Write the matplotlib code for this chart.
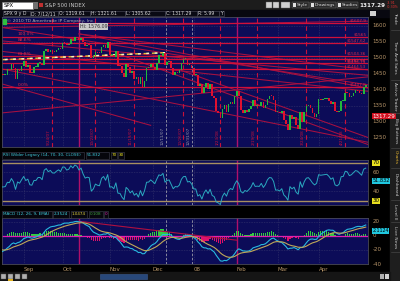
import numpy as np
import pandas as pd
import matplotlib
matplotlib.use('Agg')
import matplotlib.pyplot as plt
from matplotlib.patches import Rectangle

# ---------------- data ----------------
# SPX daily closes used only to warm up the indicators (Jul 2 - Aug 14 2007)
warmup_closes = [1519.43, 1524.87, 1525.40, 1530.44, 1531.85, 1510.12, 1518.76, 1547.70,
                 1552.50, 1549.52, 1549.37, 1546.17, 1553.08, 1534.10, 1541.57, 1511.04,
                 1518.09, 1482.66, 1458.95, 1473.91, 1455.27, 1465.81, 1472.20, 1433.06,
                 1467.67, 1476.71, 1497.49, 1453.09, 1453.64, 1452.92, 1426.54]
# SPX daily closes shown (Aug 15 2007 - May 2 2008)
closes = [
    1406.70, 1411.27, 1445.94, 1445.55, 1447.12, 1464.07, 1462.50, 1479.37, 1466.79, 1432.36,
    1463.76, 1457.64, 1473.99,
    1489.42, 1472.29, 1478.55, 1453.55, 1451.70, 1471.49, 1471.56, 1483.95, 1484.25, 1476.65,
    1519.78, 1529.03, 1518.75, 1525.75, 1517.73, 1517.21, 1525.42, 1531.38, 1526.75,
    1547.04, 1546.63, 1539.59, 1542.84, 1557.59, 1552.58, 1565.15, 1562.47, 1554.41, 1561.80,
    1548.71, 1538.53, 1541.24, 1540.08, 1500.63, 1506.33, 1519.59, 1515.88, 1514.40, 1535.28,
    1540.98, 1531.02, 1549.38,
    1508.44, 1509.65, 1502.17, 1520.27, 1475.62, 1474.77, 1453.70, 1439.18, 1481.05, 1470.58,
    1451.15, 1458.74, 1433.27, 1439.70, 1416.77, 1440.70, 1407.22, 1428.23, 1469.02, 1469.72,
    1481.14,
    1472.42, 1462.79, 1485.01, 1507.34, 1504.66, 1515.96, 1477.65, 1486.59, 1488.41, 1467.95,
    1445.90, 1454.98, 1453.00, 1460.12, 1484.46, 1496.45, 1497.66, 1476.27, 1478.49, 1468.36,
    1447.16, 1447.16, 1411.63, 1416.18, 1390.19, 1409.13, 1420.33, 1401.02, 1416.25, 1380.95,
    1373.20, 1333.25, 1325.19, 1310.50, 1338.60, 1352.07, 1330.61, 1353.96, 1362.30, 1355.81,
    1378.55,
    1395.42, 1380.82, 1336.64, 1326.45, 1336.91, 1331.29, 1339.13, 1348.86, 1367.21, 1348.86,
    1349.99, 1348.78, 1360.03, 1342.53, 1353.11, 1371.80, 1381.29, 1380.02, 1367.68, 1330.63,
    1331.34, 1326.75, 1333.70, 1304.34, 1293.37, 1273.37, 1320.65, 1308.77, 1315.48, 1288.14,
    1276.60, 1330.74, 1298.42, 1329.51, 1349.88, 1352.99, 1341.13, 1325.76, 1315.22, 1322.70,
    1370.18, 1367.53, 1369.31, 1370.40, 1372.54, 1365.54, 1354.49, 1360.55, 1332.83, 1328.32,
    1334.43, 1364.71, 1365.56, 1390.33, 1388.17, 1375.94, 1379.93, 1388.82, 1397.84, 1396.37,
    1390.94, 1385.59, 1409.34, 1413.90]

month_labels = ['Sep', 'Oct', 'Nov', 'Dec', '08', 'Feb', 'Mar', 'Apr']
month_first_idx = [13, 32, 55, 76, 96, 117, 137, 157]

price_ticks = [1600, 1550, 1500, 1450, 1400, 1350, 1300, 1250]
rsi_ticks = [60, 40]
macd_ticks = [20, 0, -20, -40]

level_prices = [1607.9, 1565.0, 1547.62, 1504.36, 1496.75, 1482.54, 1464.53, 1407.8]
level_labels = ['$1607.9', '$1565', '$1547.62', '$1504.36', '$1496.75', '$1482.54',
                '$1464.53', '$1407.8']
level_label_above = [True, True, True, True, False, True, True, True]
fib_prices = [1565.0, 1547.62, 1504.36, 1407.8]
fib_labels = ['100.0%', '88.6%', '61.8%', '0.0%']

# trend lines drawn on the price pane: (start idx, start price, end idx, end price)
diag_x0 = [2.4, 2.4, 2.4, 2.4, 2.4, 40, 60, 90, 2.4, 2.4, 40]
diag_p0 = [1595, 1553, 1465, 1418, 1327, 1575, 1510, 1460, 1595, 1520, 1575]
diag_x1 = [181, 181, 181, 75, 181, 181, 181, 181, 181, 181, 181]
diag_p1 = [1415, 1445, 1235, 1288, 1440, 1462, 1228, 1250, 1615, 1395, 1405]

vline_idx = [27, 48, 67, 91, 109, 127, 151, 170]
vline_labels = ['9/24/07', '10/23/07', '11/19/07', '12/26/07', '1/23/08', '2/19/08',
                '3/24/08', '4/21/08']
grey_vline_idx = [82.5, 95.2]
grey_vline_labels = ['12/11/07', '12/31/07']
magenta_vline_idx = [40, 117]

hi_idx, hi_value = 40, 1576.09
last_quote = 1317.29

# ---------------- indicators ----------------
def wilder_rsi(values, n=14):
    v = np.asarray(values, float)
    d = np.diff(v)
    g = np.where(d > 0, d, 0.0)
    l = np.where(d < 0, -d, 0.0)
    ag, al = g[:n].mean(), l[:n].mean()
    out = np.full(len(v), np.nan)
    out[n] = 100 - 100 / (1 + ag / al)
    for k in range(n, len(d)):
        ag = (ag * (n - 1) + g[k]) / n
        al = (al * (n - 1) + l[k]) / n
        out[k + 1] = 100 - 100 / (1 + ag / al)
    return out

allc = pd.Series(warmup_closes + closes, dtype=float)
nw = len(warmup_closes)
rsi = wilder_rsi(allc.values)[nw:]
macd_all = allc.ewm(span=12, adjust=False).mean() - allc.ewm(span=26, adjust=False).mean()
sig_all = macd_all.ewm(span=9, adjust=False).mean()
macd = macd_all.values[nw:]
sig = sig_all.values[nw:]
hist = macd - sig

c = np.array(closes)
o = np.array(allc.values[nw - 1:-1])
idx = np.arange(len(c))

# ---------------- figure ----------------
W, H = 400, 281
NAVY = '#0c0c58'
UP = '#22b83c'
DN = '#e01030'
TAN = '#b8966a'
GRID = '#50507a'
LVL = '#d0103a'

fig = plt.figure(figsize=(W / 100, H / 100), dpi=100, facecolor='#000000')

def add_px(x0, y0, x1, y1, z=0):
    return fig.add_axes([x0 / W, 1 - y1 / H, (x1 - x0) / W, (y1 - y0) / H], zorder=z)

base = add_px(0, 0, W, H, z=-10)
base.set_xlim(0, W); base.set_ylim(H, 0); base.axis('off')
over = add_px(0, 0, W, H, z=20)
over.set_xlim(0, W); over.set_ylim(H, 0); over.axis('off'); over.patch.set_alpha(0)

# chrome: top toolbar, info bar, tab strip, scrollbar
base.add_patch(Rectangle((0, 0), W, 10, color='#1c1c1c'))
base.add_patch(Rectangle((0, 10), W, 7, color='#080810'))
base.add_patch(Rectangle((390, 0), 10, H, color='#1e1e1e'))
base.add_patch(Rectangle((0, 272), 390, 9, color='#151515'))

XL = (2.4, 181.1)

def style_panel(ax):
    ax.set_facecolor(NAVY)
    ax.set_xlim(*XL)
    ax.set_xticks([]); ax.set_yticks([])
    for s in ax.spines.values():
        s.set_color('#4a4a5a'); s.set_linewidth(0.6)
    for m in month_first_idx:
        ax.axvline(m, color=GRID, lw=0.4, ls=(0, (1, 2)), zorder=0.5)
    for g in grey_vline_idx:
        ax.axvline(g, color='#9a9aa8', lw=0.6, ls=(0, (3, 2)), zorder=1)
    for mv in magenta_vline_idx:
        ax.axvline(mv, color='#b0106a', lw=1.0, zorder=1)

def rlabel(ax, y, s, color=TAN, box=None, tcolor=None, fs=4.0):
    kw = {}
    if box is not None:
        kw['bbox'] = dict(boxstyle='square,pad=0.1', fc=box, ec='none')
    ax.text(1.012, y, s, transform=ax.get_yaxis_transform(), ha='left', va='center',
            fontsize=fs, color=tcolor or color, clip_on=False, **kw)

# ---- price pane ----
axp = add_px(2, 17, 368, 147)
style_panel(axp)
axp.set_ylim(1220, 1628)
for p in price_ticks:
    axp.axhline(p, color=GRID, lw=0.4, ls=(0, (1, 2)), zorder=0.5)
for x0, p0, x1, p1 in zip(diag_x0, diag_p0, diag_x1, diag_p1):
    axp.plot([x0, x1], [p0, p1], color='#a81040', lw=0.75, zorder=1)
for lv, lb, up in zip(level_prices, level_labels, level_label_above):
    axp.axhline(lv, color=LVL, lw=0.9, zorder=1.2)
    axp.text(0.995, lv + (1.5 if up else -1.5), lb, transform=axp.get_yaxis_transform(),
             ha='right', va='bottom' if up else 'top', fontsize=3.0, color='#e02848', zorder=3)
for fp, fl in zip(fib_prices, fib_labels):
    axp.text(10, fp + 2, fl, ha='left', va='bottom', fontsize=3.2, color='#e02848', zorder=3)
for vx, vl in zip(vline_idx, vline_labels):
    axp.axvline(vx, color='#c8103a', lw=0.8, ls=(0, (4, 3)), zorder=1)
    axp.text(vx - 0.6, 1226, vl, rotation=90, ha='right', va='bottom', fontsize=3.0,
             color='#c8103a', zorder=3)
for gx, gl in zip(grey_vline_idx, grey_vline_labels):
    axp.text(gx - 0.6, 1226, gl, rotation=90, ha='right', va='bottom', fontsize=3.0,
             color='#9a9aa8', zorder=3)
axp.plot([XL[0], 82], [1494, 1516], color='#e8c030', lw=1.0, ls=(0, (4, 2)), zorder=2)
axp.plot([XL[0], 82], [1494, 1516], color='#f0f0d0', lw=1.0, ls=(4, (2, 4)), zorder=2)

body_lo = np.minimum(o, c)
body_h = np.maximum(np.abs(c - o), 3.0)
cols = np.where(c >= o, UP, DN)
axp.bar(idx, body_h, bottom=body_lo, width=0.8, color=cols, linewidth=0, zorder=4)

axp.text(hi_idx + 0.3, hi_value + 14, 'Hi: ' + f'{hi_value:.2f}', ha='left', va='bottom',
         fontsize=3.4, color='#303030', zorder=5,
         bbox=dict(boxstyle='square,pad=0.15', fc='#c8c8c8', ec='none'))
axp.text(0.014, 0.985, '\u00a9 2010 TD Ameritrade IP Company, Inc.', transform=axp.transAxes,
         ha='left', va='top', fontsize=3.2, color='#b0b0b0', zorder=5)
axp.add_patch(Rectangle((0.002, 0.945), 0.008, 0.04, transform=axp.transAxes,
                        color='#30c040', zorder=5))
for p in price_ticks:
    rlabel(axp, p, str(p))
rlabel(axp, last_quote, f'{last_quote:.2f}', box='#d01020', tcolor='white')

# ---- RSI pane ----
axr = add_px(2, 160, 368, 205)
style_panel(axr)
axr.set_ylim(25.7, 72.8)
for t in rsi_ticks:
    axr.axhline(t, color=GRID, lw=0.4, ls=(0, (1, 2)), zorder=0.5)
axr.axhline(70, color='#a89060', lw=1.0, zorder=2)
axr.axhline(30, color='#a89060', lw=1.0, zorder=2)
axr.plot(idx, rsi, color='#2aa8c0', lw=0.7, zorder=3)
for t in rsi_ticks:
    rlabel(axr, t, str(t))
rlabel(axr, 70, '70', box='#e8e020', tcolor='black')
rlabel(axr, 30, '30', box='#e8e020', tcolor='black')
rlabel(axr, 51.0, '51.832', box='#20c8e0', tcolor='black', fs=3.6)

# ---- MACD pane ----
axm = add_px(2, 218, 368, 264)
style_panel(axm)
axm.set_ylim(-40, 25.7)
for t in macd_ticks:
    axm.axhline(t, color=GRID, lw=0.4, ls=(0, (1, 2)), zorder=0.5)
hcols = np.where(hist >= 0, '#30d040', '#e0106a')
axm.bar(idx, hist, width=0.6, color=hcols, linewidth=0, zorder=2)
axm.axhline(0, color='#e020b0', lw=0.9, zorder=2.5)
axm.plot([40, 117], [21, -6], color='#b01040', lw=0.8, zorder=2.6)
axm.plot(idx, macd, color='#28b8e0', lw=0.8, zorder=3)
axm.plot(idx, sig, color='#c0a858', lw=0.8, zorder=3)
for t in macd_ticks:
    rlabel(axm, t, str(t))
rlabel(axm, 7.5, '2.1124', box='#20c8e0', tcolor='black', fs=3.4)
for m, lab in zip(month_first_idx, month_labels):
    axm.text(m, -0.06, lab, transform=axm.get_xaxis_transform(), ha='left', va='top',
             fontsize=4, color=TAN, clip_on=False)

# ---- header chrome texts ----
over.add_patch(Rectangle((2, 1.5), 31, 7, fc='white', ec='#808080', lw=0.4))
over.text(4, 5.2, 'SPX', fontsize=3.8, color='black', va='center')
over.add_patch(Rectangle((33, 1.5), 5, 7, fc='#707070', ec='none'))
over.add_patch(Rectangle((39, 2.5), 4, 4, fc='#c03030', ec='none'))
over.text(45, 5.2, 'S&P 500 INDEX', fontsize=3.8, color='#c8c8c8', va='center')
for bx in (266, 273, 281):
    over.add_patch(Rectangle((bx, 2), 6 if bx < 281 else 9, 6, fc='#d0d0d0', ec='#606060', lw=0.3))
for bx, bw, txt in ((292, 17, 'Style'), (310, 26, 'Drawings'), (337, 21, 'Studies')):
    over.add_patch(Rectangle((bx, 2), bw, 6, fc='#2a2a2a', ec='#707070', lw=0.3))
    over.add_patch(Rectangle((bx + 0.8, 3), 3, 4, fc='#e0e0e0', ec='none'))
    over.text(bx + 4.5, 5.1, txt, fontsize=3.2, color='#e0e0e0', va='center')
over.text(359.5, 5.2, '1317.29', fontsize=4.1, color='#f0f0f0', va='center', fontweight='bold')
over.text(386.5, 3.0, '-3.91', fontsize=2.4, color='#e03030', va='center')
over.text(386.5, 7.3, '-0.30%', fontsize=2.4, color='#e03030', va='center')

info = [(3, 27, 'SPX 9 y D'), (30, 28, 'D: 7/12/11'), (58, 32, 'O: 1319.61'),
        (90, 35, 'H: 1321.61'), (125, 40, 'L: 1305.62'), (165, 32, 'C: 1317.29'),
        (197, 22, 'R: 5.99'), (219, 5, 'Y')]
for bx, bw, txt in info:
    over.add_patch(Rectangle((bx, 10.8), bw, 5.6, fc='#0a0a14', ec='#505060', lw=0.4))
    over.text(bx + 1.2, 13.7, txt, fontsize=3.3, color='#d8d8d8', va='center')
over.add_patch(Rectangle((370, 10.5), 6, 5.5, fc='#d0d0d0', ec='none'))

# pane title bars
over.add_patch(Rectangle((2, 152), 82, 6.5, fc='#06060c', ec='#404050', lw=0.4))
over.text(3.2, 155.3, 'RSI Wilder Legacy (14, 70, 30, CLOSE)', fontsize=3.0,
          color='#40c8d8', va='center')
for bx, bw, txt, colr in ((86, 23, '51.832', '#40d0e0'), (111, 6, '70', '#e8e020'),
                          (118, 6, '30', '#e8e020')):
    over.add_patch(Rectangle((bx, 152), bw, 6.5, fc='#06060c', ec='#404050', lw=0.4))
    over.text(bx + 1, 155.3, txt, fontsize=3.0, color=colr, va='center')
over.add_patch(Rectangle((2, 211), 50, 6.5, fc='#06060c', ec='#404050', lw=0.4))
over.text(3.2, 214.3, 'MACD (12, 26, 9, EMA)', fontsize=3.0, color='#40c8d8', va='center')
for bx, bw, txt, colr in ((53, 16, '2.3524', '#40d0e0'), (71, 16, '1.0474', '#e0d040'),
                          (89, 14, '0.108', '#40a040'), (104, 4, '0', '#e020b0')):
    over.add_patch(Rectangle((bx, 211), bw, 6.5, fc='#06060c', ec='#404050', lw=0.4))
    over.text(bx + 1, 214.3, txt, fontsize=3.0, color=colr, va='center')

# scrollbar
for bx in (1, 8, 15, 22):
    over.add_patch(Rectangle((bx, 273.5), 5, 5, fc='#b0b0b0', ec='#505050', lw=0.3))
over.add_patch(Rectangle((100, 273.5), 47, 5.5, fc='#28487a', ec='#3a5a90', lw=0.4))
over.add_patch(Rectangle((380, 273.5), 4, 5, fc='#b0b0b0', ec='none'))
over.add_patch(Rectangle((385, 273.5), 4, 5, fc='#d0d0d0', ec='none'))
over.add_patch(Rectangle((8, 279), 5, 2, fc='#e0b020', ec='none'))

# right tab strip
tabs = [(18, 'Trade'), (57, 'Time And Sales'), (96, 'Active Trader'), (131, 'Big Buttons'),
        (157, 'Charts'), (185, 'Dashboard'), (212, 'Level II'), (237, 'Live News')]
for ty, tl in tabs:
    over.text(395.5, ty, tl, rotation=-90, fontsize=3.2, ha='center', va='center',
              color='#e0b030' if tl == 'Charts' else '#c8c8c8')
for sy in (30, 80, 113, 148, 168, 200, 222, 252):
    over.plot([391, 400], [sy, sy], color='#505050', lw=0.4)

fig.savefig('out.png', dpi=100, facecolor=fig.get_facecolor())
